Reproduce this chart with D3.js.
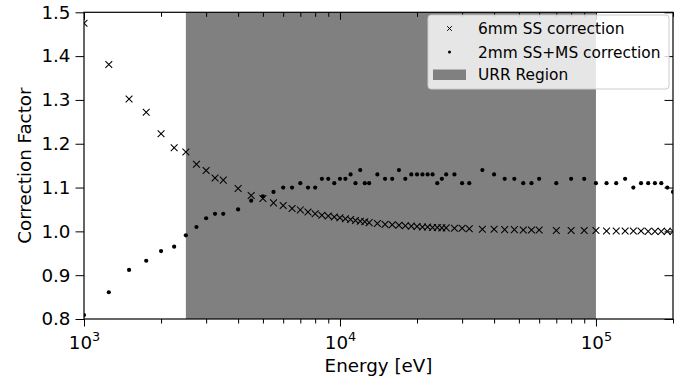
<!DOCTYPE html>
<html>
<head>
<meta charset="utf-8">
<script src="https://cdn.jsdelivr.net/npm/d3@7"></script>
<style>
  html, body { margin: 0; padding: 0; background: #ffffff; }
  svg { display: block; }
  text { font-family: "DejaVu Sans", sans-serif; fill: #000; }
</style>
</head>
<body>
<svg id="chart" width="694" height="385"></svg>
<script>
// ---------- data ----------
const ssEnergies = [1000,1250,1500,1750,2000,2250,2500,2750,3000,3250,3500,4000,4500,5000,5500,6000,6500,7000,7500,8000,8500,9000,9500,
  10000,10500,11000,11500,12000,12500,13000,14000,15000,16000,17000,18000,19000,20000,21000,22000,23000,24000,25000,26000,28000,30000,32000,
  36000,40000,44000,48000,52000,56000,60000,70000,80000,90000,100000,110000,120000,130000,140000,150000,160000,170000,180000,190000,200000];
const ssValues = [1.475,1.381,1.302,1.272,1.223,1.191,1.181,1.153,1.139,1.122,1.117,1.098,1.082,1.075,1.065,1.059,1.052,1.049,1.044,1.040,1.037,1.035,1.033,
  1.031,1.029,1.027,1.025,1.023,1.022,1.020,1.018,1.016,1.015,1.014,1.013,1.012,1.011,1.010,1.010,1.009,1.009,1.008,1.008,1.007,1.007,1.006,
  1.005,1.005,1.004,1.004,1.003,1.003,1.003,1.002,1.002,1.002,1.002,1.001,1.001,1.001,1.001,1.001,1.000,1.000,1.000,1.000,1.000];

const msEnergies = [1000,1250,1500,1750,2000,2250,2500,2750,3000,3250,3500,4000,4500,5000,5500,6000,6500,7000,7500,8000,8500,9000,9500,
  10000,10500,11000,11500,12000,12500,13000,14000,15000,16000,17000,18000,19000,20000,21000,22000,23000,24000,25000,26000,28000,30000,32000,
  36000,40000,44000,48000,52000,56000,60000,70000,80000,90000,100000,110000,120000,130000,140000,150000,160000,170000,180000,190000,200000];
const msValues = [0.809,0.861,0.912,0.933,0.955,0.965,0.991,1.010,1.030,1.040,1.040,1.050,1.070,1.080,1.090,1.100,1.100,1.110,1.100,1.100,1.120,1.120,1.110,
  1.120,1.120,1.130,1.110,1.140,1.110,1.110,1.130,1.120,1.120,1.140,1.120,1.130,1.130,1.130,1.130,1.130,1.110,1.120,1.130,1.130,1.110,1.110,
  1.140,1.130,1.120,1.120,1.110,1.110,1.120,1.110,1.120,1.120,1.110,1.110,1.110,1.120,1.100,1.110,1.110,1.110,1.110,1.100,1.090];

const urrRange = [2500, 100000];
const xDomain = [1000, 200000];
const yDomain = [0.8, 1.5];
const yTicks = [0.8, 0.9, 1.0, 1.1, 1.2, 1.3, 1.4, 1.5];
const xMajorTicks = [1e3, 1e4, 1e5];
const xMinorTicks = [2e3,3e3,4e3,5e3,6e3,7e3,8e3,9e3,2e4,3e4,4e4,5e4,6e4,7e4,8e4,9e4,2e5];
const legendLabels = ["6mm SS correction", "2mm SS+MS correction", "URR Region"];
const xLabel = "Energy [eV]";
const yLabel = "Correction Factor";

// ---------- layout ----------
const L = 84, R = 673, T = 12.3, B = 319;
const svg = d3.select("#chart");
const x = d3.scaleLog().domain(xDomain).range([L, R]);
const y = d3.scaleLinear().domain(yDomain).range([B, T]);

// URR shade
svg.append("rect")
  .attr("x", x(urrRange[0])).attr("y", T)
  .attr("width", x(urrRange[1]) - x(urrRange[0]))
  .attr("height", B - T)
  .attr("fill", "#808080");

// clip to the axes box
svg.append("clipPath").attr("id", "clip").append("rect")
  .attr("x", L).attr("y", T).attr("width", R - L).attr("height", B - T);
const plot = svg.append("g").attr("clip-path", "url(#clip)");

// X markers (6mm SS)
const xm = 3.4;
plot.append("g").selectAll("path").data(ssEnergies.map((e, i) => [e, ssValues[i]]))
  .join("path")
  .attr("d", d => {
    const cx = x(d[0]), cy = y(d[1]);
    return `M${cx - xm},${cy - xm}L${cx + xm},${cy + xm}M${cx - xm},${cy + xm}L${cx + xm},${cy - xm}`;
  })
  .attr("stroke", "#000").attr("stroke-width", 1.05).attr("fill", "none");

// dots (2mm SS+MS)
plot.append("g").selectAll("circle").data(msEnergies.map((e, i) => [e, msValues[i]]))
  .join("circle")
  .attr("cx", d => x(d[0])).attr("cy", d => y(d[1])).attr("r", 2.1)
  .attr("fill", "#000");

// ---------- axes ----------
const fs = 18.3;
function styleAxis(g) {
  g.select(".domain").remove();
  g.selectAll("line").attr("stroke", "#000").attr("stroke-width", 1);
}
// bottom major
const gb = svg.append("g").attr("transform", `translate(0,${B})`)
  .call(d3.axisBottom(x).tickValues(xMajorTicks).tickSize(7.5).tickPadding(5).tickFormat(() => ""));
styleAxis(gb);
gb.selectAll(".tick text").each(function(d) {
  const t = d3.select(this);
  t.attr("font-size", fs).attr("font-family", "DejaVu Sans").attr("dy", null).attr("y", 30);
  t.append("tspan").text("10");
  t.append("tspan").text(Math.round(Math.log10(d))).attr("font-size", fs * 0.7).attr("dy", -8);
});
// bottom minor
const gbm = svg.append("g").attr("transform", `translate(0,${B})`)
  .call(d3.axisBottom(x).tickValues(xMinorTicks).tickSize(4.5).tickFormat(() => ""));
styleAxis(gbm);
// top major/minor inward
const gt = svg.append("g").attr("transform", `translate(0,${T})`)
  .call(d3.axisTop(x).tickValues(xMajorTicks).tickSize(-7.5).tickFormat(() => ""));
styleAxis(gt);
const gtm = svg.append("g").attr("transform", `translate(0,${T})`)
  .call(d3.axisTop(x).tickValues(xMinorTicks).tickSize(-4.5).tickFormat(() => ""));
styleAxis(gtm);
// left
const gl = svg.append("g").attr("transform", `translate(${L},0)`)
  .call(d3.axisLeft(y).tickValues(yTicks).tickSize(8.5).tickPadding(5).tickFormat(d3.format(".1f")));
styleAxis(gl);
gl.selectAll(".tick text").attr("font-size", fs).attr("font-family", "DejaVu Sans");
// right inward
const gr = svg.append("g").attr("transform", `translate(${R},0)`)
  .call(d3.axisRight(y).tickValues(yTicks).tickSize(-8.5).tickFormat(() => ""));
styleAxis(gr);

// spines
svg.append("rect").attr("x", L).attr("y", T).attr("width", R - L).attr("height", B - T)
  .attr("fill", "none").attr("stroke", "#000").attr("stroke-width", 1.2);

// labels
svg.append("text").attr("x", (L + R) / 2).attr("y", 372).attr("text-anchor", "middle")
  .attr("font-size", fs).text(xLabel);
svg.append("text").attr("transform", `translate(31,${(T + B) / 2}) rotate(-90)`)
  .attr("text-anchor", "middle").attr("font-size", fs).text(yLabel);

// ---------- legend ----------
const lg = svg.append("g");
lg.append("rect").attr("x", 428).attr("y", 15).attr("width", 241).attr("height", 74).attr("rx", 3)
  .attr("fill", "#ffffff").attr("fill-opacity", 0.8).attr("stroke", "#cccccc").attr("stroke-width", 1);
const lfs = 15.4;
const rows = [28.5, 52, 74.5];
const lx = 449.5, sm = 2.3;
lg.append("path")
  .attr("d", `M${lx - sm},${rows[0] - sm}L${lx + sm},${rows[0] + sm}M${lx - sm},${rows[0] + sm}L${lx + sm},${rows[0] - sm}`)
  .attr("stroke", "#000").attr("stroke-width", 1);
lg.append("circle").attr("cx", lx).attr("cy", rows[1]).attr("r", 1.5).attr("fill", "#000");
lg.append("rect").attr("x", 433).attr("y", rows[2] - 5).attr("width", 33).attr("height", 10.5).attr("fill", "#808080");
legendLabels.forEach((s, i) => {
  lg.append("text").attr("x", 478).attr("y", rows[i]).attr("dy", "0.36em")
    .attr("font-size", lfs).text(s);
});
</script>
</body>
</html>
